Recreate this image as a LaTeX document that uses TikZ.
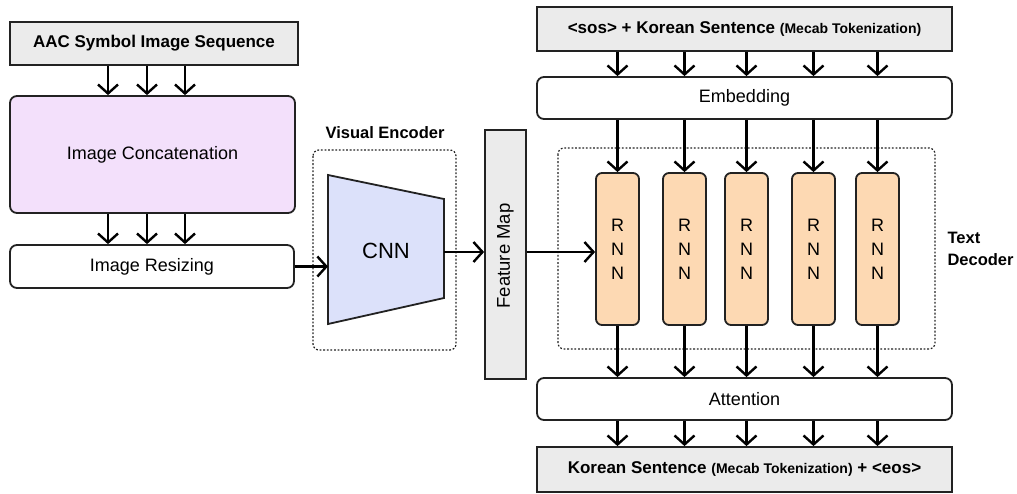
\documentclass[tikz,border=0pt]{standalone}
\usepackage{fontspec}
\setmainfont{Liberation Sans}
\usetikzlibrary{arrows.meta}
\definecolor{boxgray}{HTML}{EBEBEB}
\definecolor{lavender}{HTML}{F3E0FB}
\definecolor{cnnblue}{HTML}{DCE1FA}
\definecolor{peach}{HTML}{FDD9B3}
\definecolor{ink}{HTML}{222222}
\tikzset{
  base/.style={draw=ink, line width=1.8pt, inner sep=0pt, font=\fontsize{18}{20}\selectfont},
  graybox/.style={base, fill=boxgray},
  headbox/.style={graybox, font=\fontsize{17}{20}\selectfont\bfseries},
  roundbox/.style={base, rounded corners=7pt, fill=white},
  rnnbox/.style={base, rounded corners=6pt, fill=peach, minimum width=43pt, minimum height=152pt, align=center, font=\fontsize{18}{24}\selectfont},
  arr/.style={draw=black, line width=2.4pt, -{Straight Barb[length=9pt,width=20pt,line width=2.4pt]}},
  group/.style={draw=ink, line width=1.2pt, dash pattern=on 1.8pt off 1.8pt, rounded corners=6pt},
  title/.style={font=\fontsize{16.5}{22}\selectfont\bfseries, align=left}
}
\newcommand{\subnote}[1]{{\fontsize{14}{16}\selectfont #1}}
\begin{document}
\begin{tikzpicture}[x=1pt,y=-1pt]
\useasboundingbox (0,0) rectangle (1017,493);

% left column: image preprocessing
\node[headbox, minimum width=288pt, minimum height=43pt] (aac) at (154,43.5) {AAC Symbol Image Sequence};
\node[roundbox, fill=lavender, minimum width=285pt, minimum height=117pt] (concat) at (152.5,154.5) {Image Concatenation};
\node[roundbox, minimum width=284pt, minimum height=43pt] (resize) at (152,266.5) {Image Resizing};
\foreach \x in {108,147,185} {
  \draw[arr] (aac.south -| \x,0) -- (concat.north -| \x,0);
  \draw[arr] (concat.south -| \x,0) -- (resize.north -| \x,0);
}

% visual encoder
\draw[group] (313,150) rectangle (456,350);
\node[title] (venc) at (385,133) {Visual Encoder};
\coordinate (cnnTL) at (328,175);
\coordinate (cnnTR) at (444,199);
\coordinate (cnnBR) at (444,298);
\coordinate (cnnBL) at (328,324);
\draw[draw=ink, line width=1.8pt, fill=cnnblue] (cnnTL) -- (cnnTR) -- (cnnBR) -- (cnnBL) -- cycle;
\node[font=\fontsize{22}{24}\selectfont] (cnn) at (386,251) {CNN};
\coordinate (cnnIn) at (328,266.5);
\coordinate (cnnOut) at (444,252);
\draw[arr] (resize.east) -- (cnnIn);

% feature map
\node[graybox, minimum width=41pt, minimum height=249pt] (fmap) at (505.5,254.5) {};
\node[rotate=90, font=\fontsize{18.5}{20}\selectfont] (fmaplabel) at (fmap.center |- 0,256) {Feature Map};
\draw[arr] (cnnOut) -- (fmap.west |- cnnOut);

% text decoder
\node[headbox, minimum width=415pt, minimum height=44pt] (sos) at (744.5,29)
  {<sos> + Korean Sentence \subnote{(Mecab Tokenization)}};
\node[roundbox, minimum width=415pt, minimum height=42pt] (embed) at (744.5,98) {Embedding};
\draw[group] (558,148) rectangle (935,349);
\node[title, anchor=west] (tdec) at (944,249) {Text\\Decoder};
\foreach \i/\x in {1/617.5,2/684.5,3/746.5,4/813.5,5/877.5}
  \node[rnnbox] (rnn\i) at (\x,249) {R\\N\\N};
\node[roundbox, minimum width=415pt, minimum height=42pt] (attn) at (744.5,399) {Attention};
\node[headbox, minimum width=415pt, minimum height=45pt] (out) at (744.5,469.5)
  {Korean Sentence \subnote{(Mecab Tokenization)} + <eos>};
\foreach \i in {1,...,5} {
  \draw[arr] (sos.south -| rnn\i.north) -- (embed.north -| rnn\i.north);
  \draw[arr] (embed.south -| rnn\i.north) -- (rnn\i.north);
  \draw[arr] (rnn\i.south) -- (attn.north -| rnn\i.south);
  \draw[arr] (attn.south -| rnn\i.south) -- (out.north -| rnn\i.south);
}
\draw[arr] (fmap.east |- cnnOut) -- (rnn1.west |- cnnOut);
\end{tikzpicture}
\end{document}
